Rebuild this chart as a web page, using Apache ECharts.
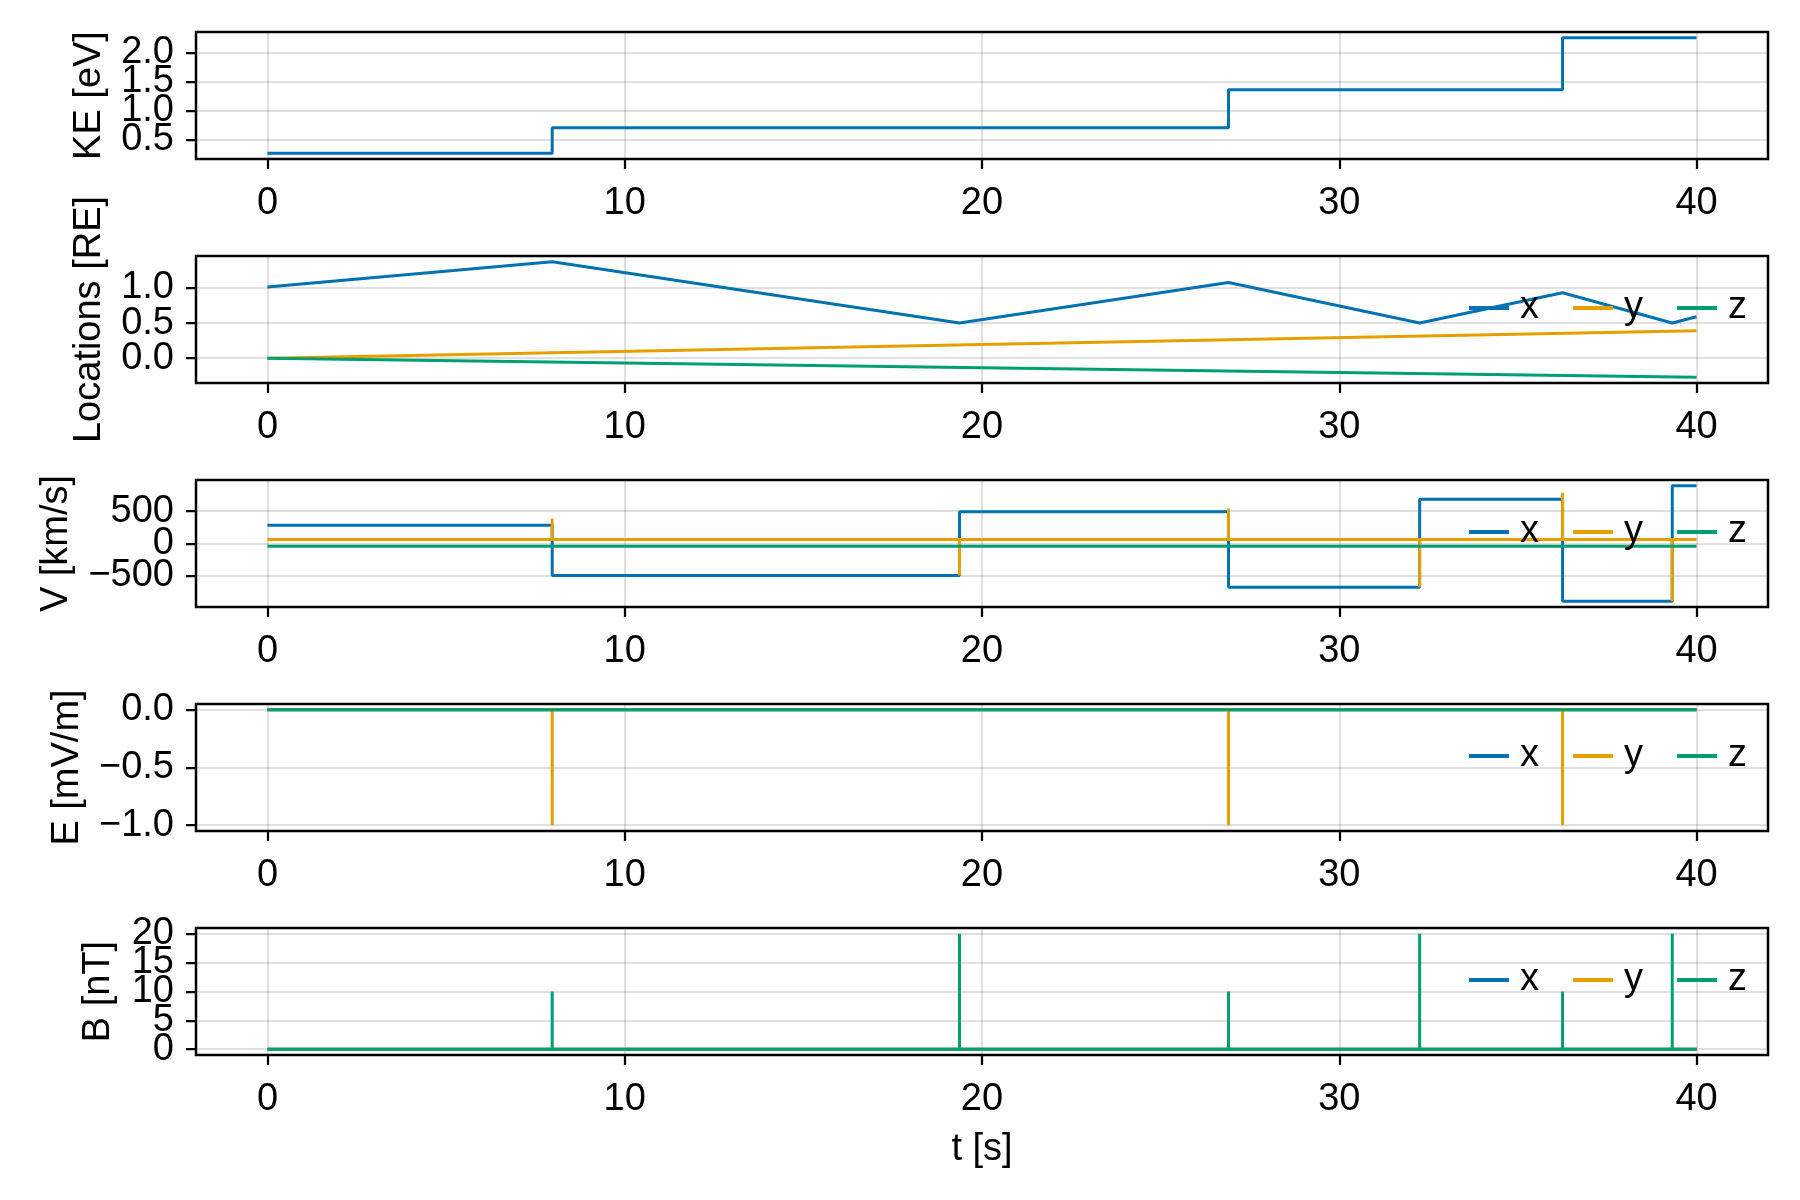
<!DOCTYPE html>
<html>
<head>
<meta charset="utf-8">
<title>Particle trace</title>
<script src="https://cdn.jsdelivr.net/npm/echarts@6/dist/echarts.min.js"></script>
<style>
  html, body { margin: 0; padding: 0; background: #fff; }
  #chart { width: 1800px; height: 1200px; }
</style>
</head>
<body>
<div id="chart"></div>
<script>
// Time axis
const tTicks = [0, 10, 20, 30, 40];
const tStart = 0;
const tEnd = 40;
// Times of the bounces, s
const eventTimes = [7.97, 19.37, 26.9, 32.25, 36.25, 39.32];

// Kinetic energy, eV
const keTimes = [0, 7.97, 26.9, 36.25, 40];
const keValues = [0.26, 0.70, 1.36, 2.26, 2.26];

// Location, RE
const locTimes = [0, 7.97, 19.37, 26.9, 32.25, 36.25, 39.32, 40];
const locX = [1.01, 1.37, 0.50, 1.075, 0.50, 0.93, 0.50, 0.59];
const locYZTimes = [0, 40];
const locY = [0, 0.39];
const locZ = [0, -0.27];

// Velocity, km/s
const vTimes = [0, 7.97, 19.37, 26.9, 32.25, 36.25, 39.32, 40];
const vx = [282, -500, 488, -682, 682, -897, 892, 892];
const vyBase = 58;
const vySpikes = [385, -500, 538, -682, 785, -897];
const vzBase = -46;

// Electric field, mV/m
const eSpikeTimes = [7.97, 26.9, 36.25];
const eySpikes = [-1, -1, -1];
const eBase = 0;

// Magnetic field, nT
const bzSpikes = [10, 20, 10, 20, 10, 20];
const bBase = 0;

const colors = { x: '#0072B2', y: '#E69F00', z: '#009E73' };
const font = '"Liberation Sans", Arial, sans-serif';
const fontSize = 38;

function pairs(ts, vs) {
    return ts.map((t, i) => [t, vs[i]]);
}

// flat line with one-sample spikes at the given times
function spikes(base, ts, peaks) {
    const out = [[tStart, base]];
    ts.forEach((t, i) => {
        out.push([t, base], [t, peaks[i]], [t, base]);
    });
    out.push([tEnd, base]);
    return out;
}

const panels = [
    {
        name: 'KE [eV]', min: 0.16, max: 2.36, ticks: [0.5, 1.0, 1.5, 2.0], dec: 1, gap: 87, legend: false,
        series: [{ name: 'KE', c: colors.x, data: pairs(keTimes, keValues), step: 'end' }]
    },
    {
        name: 'Locations [RE]', min: -0.352, max: 1.452, ticks: [0, 0.5, 1.0], dec: 1, gap: 87, legend: true,
        series: [
            { name: 'x', c: colors.x, data: pairs(locTimes, locX) },
            { name: 'y', c: colors.y, data: pairs(locYZTimes, locY) },
            { name: 'z', c: colors.z, data: pairs(locYZTimes, locZ) }
        ]
    },
    {
        name: 'V [km/s]', min: -986, max: 981, ticks: [-500, 0, 500], dec: 0, gap: 120, legend: true,
        series: [
            { name: 'x', c: colors.x, data: pairs(vTimes, vx), step: 'end' },
            { name: 'y', c: colors.y, data: spikes(vyBase, eventTimes, vySpikes) },
            { name: 'z', c: colors.z, data: spikes(vzBase, [], []) }
        ]
    },
    {
        name: 'E [mV/m]', min: -1.05, max: 0.05, ticks: [-1.0, -0.5, 0.0], dec: 1, gap: 109, legend: true,
        series: [
            { name: 'x', c: colors.x, data: spikes(eBase, [], []) },
            { name: 'y', c: colors.y, data: spikes(eBase, eSpikeTimes, eySpikes) },
            { name: 'z', c: colors.z, data: spikes(eBase, [], []) }
        ]
    },
    {
        name: 'B [nT]', min: -1, max: 21, ticks: [0, 5, 10, 15, 20], dec: 0, gap: 78, legend: true,
        series: [
            { name: 'x', c: colors.x, data: spikes(bBase, [], []) },
            { name: 'y', c: colors.y, data: spikes(bBase, [], []) },
            { name: 'z', c: colors.z, data: spikes(bBase, eventTimes, bzSpikes) }
        ]
    }
];

const gridLeft = 196;
const gridWidth = 1572;
const firstTop = 32;
const step = 224;
const panelHeight = 127;

const tickStyle = { color: '#000', width: 2.25 };
const splitStyle = { color: 'rgba(0,0,0,0.12)', width: 2 };
const labelStyle = { fontSize: fontSize, fontFamily: font, color: '#000' };

const grids = [], xAxes = [], yAxes = [], series = [], legends = [];

// y tick labels overlap like in the original; ECharts hides overlapping
// min/max labels, so alternate ticks are split over two stacked y axes
function yAxis(p, i, ticks, withName) {
    return {
        type: 'value', gridIndex: i, min: p.min, max: p.max, position: 'left', offset: 0,
        name: withName ? p.name : '', nameLocation: 'middle', nameGap: p.gap, nameRotate: 90,
        nameTextStyle: labelStyle,
        axisLine: { show: false, onZero: false },
        axisTick: { show: ticks.length > 0, length: 10, lineStyle: tickStyle, customValues: ticks },
        axisLabel: {
            ...labelStyle, show: ticks.length > 0, margin: 22, customValues: ticks,
            showMinLabel: true, showMaxLabel: true, hideOverlap: false,
            formatter: v => v.toFixed(p.dec).replace('-', '\u2212')
        },
        splitLine: { show: ticks.length > 0, lineStyle: splitStyle }
    };
}

panels.forEach((p, i) => {
    const top = firstTop + step * i;
    grids.push({
        left: gridLeft, width: gridWidth, top: top, height: panelHeight,
        show: true, borderColor: '#000', borderWidth: 2.5, backgroundColor: 'transparent',
        containLabel: false, outerBoundsMode: 'none'
    });
    const last = i === panels.length - 1;
    xAxes.push({
        type: 'value', gridIndex: i, min: -2, max: 42, position: 'bottom',
        name: last ? 't [s]' : '', nameLocation: 'middle', nameGap: 76,
        nameTextStyle: labelStyle,
        axisLine: { show: false, onZero: false },
        axisTick: { show: true, length: 10, lineStyle: tickStyle, customValues: tTicks },
        axisLabel: { ...labelStyle, margin: 26, customValues: tTicks, showMinLabel: true, showMaxLabel: true },
        splitLine: { show: true, lineStyle: splitStyle }
    });
    const evenTicks = p.ticks.filter((v, k) => k % 2 === 0);
    const oddTicks = p.ticks.filter((v, k) => k % 2 === 1);
    yAxes.push(yAxis(p, i, evenTicks, true));
    yAxes.push(yAxis(p, i, oddTicks, false));
    p.series.forEach(s => {
        series.push({
            type: 'line', name: s.name, xAxisIndex: i, yAxisIndex: 2 * i,
            data: s.data, step: s.step || false,
            symbol: 'none', showSymbol: false, color: s.c,
            lineStyle: { color: s.c, width: 3 },
            animation: false, silent: true
        });
    });
    if (p.legend) {
        legends.push({
            data: ['x', 'y', 'z'], left: 1462, top: top + 27,
            orient: 'horizontal', itemWidth: 40, itemHeight: 14, itemGap: 32,
            itemStyle: { opacity: 0 },
            lineStyle: { width: 4 },
            textStyle: { ...labelStyle, lineHeight: 40, padding: [0, 0, 0, 6] },
            selectedMode: false
        });
    }
});

const chart = echarts.init(document.getElementById('chart'));
chart.setOption({
    backgroundColor: '#fff',
    animation: false,
    grid: grids,
    xAxis: xAxes,
    yAxis: yAxes,
    legend: legends,
    series: series
});
</script>
</body>
</html>
